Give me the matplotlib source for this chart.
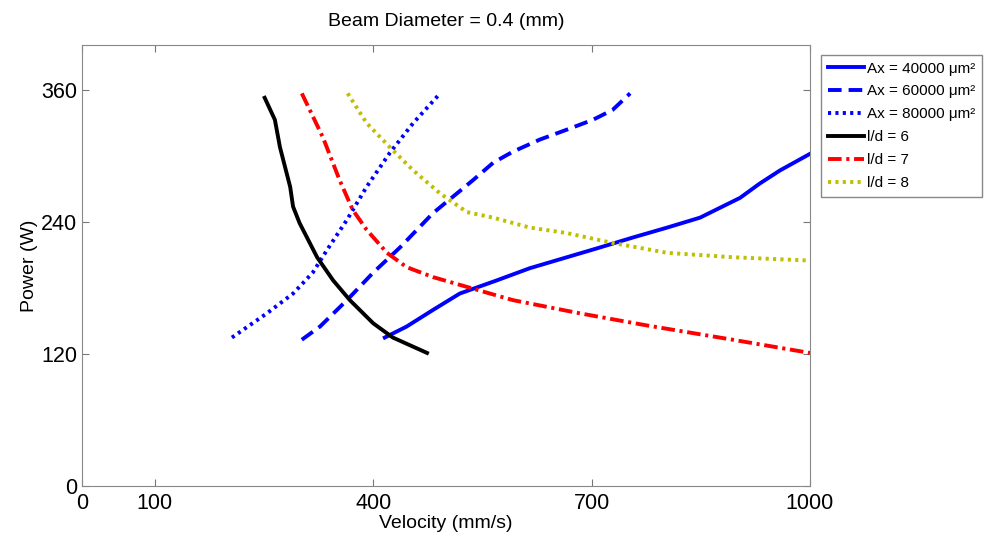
import matplotlib
matplotlib.use('Agg')
import matplotlib.pyplot as plt

plt.rcParams['font.family'] = ['Liberation Sans', 'DejaVu Sans']

# Ax = 40000 um^2 (blue solid)
v_ax40 = [416, 446, 482, 519, 570, 615, 661, 707, 757, 804, 849, 904, 931, 959, 1000]
p_ax40 = [135, 145, 160, 175, 187, 198, 207, 216, 226, 235, 244, 262, 275, 287, 302]
# Ax = 60000 um^2 (blue dashed)
v_ax60 = [302, 327, 364, 400, 437, 482, 537, 565, 592, 629, 666, 702, 729, 753]
p_ax60 = [133, 145, 169, 194, 217, 248, 278, 294, 304, 315, 324, 333, 342, 357]
# Ax = 80000 um^2 (blue dotted)
v_ax80 = [206, 254, 290, 317, 337, 364, 391, 423, 455, 492]
p_ax80 = [135, 157, 175, 194, 215, 242, 272, 303, 330, 357]
# l/d = 6 (black solid)
v_ld6 = [251, 265, 272, 286, 290, 299, 323, 345, 368, 400, 427, 474]
p_ld6 = [353, 333, 308, 272, 254, 239, 208, 187, 169, 148, 135, 121]
# l/d = 7 (red dash-dot)
v_ld7 = [302, 331, 354, 372, 391, 419, 446, 482, 529, 592, 684, 776, 894, 1000]
p_ld7 = [357, 317, 278, 251, 233, 212, 199, 190, 181, 169, 157, 146, 133, 121]
# l/d = 8 (yellow dotted)
v_ld8 = [365, 391, 423, 455, 492, 529, 565, 615, 666, 729, 804, 894, 1000]
p_ld8 = [357, 330, 308, 287, 266, 249, 244, 235, 230, 221, 212, 208, 205]

xticks = [0, 100, 400, 700, 1000]
yticks = [0, 120, 240, 360]

fig = plt.figure(figsize=(9.84, 5.42), dpi=100)
ax = fig.add_axes([0.0833, 0.1033, 0.7398, 0.8137])

lw = 2.8
ax.plot(v_ax40, p_ax40, color='#0000ff', lw=lw, ls='-', label='Ax = 40000 μm²')
ax.plot(v_ax60, p_ax60, color='#0000ff', lw=lw, ls=(0, (3.5, 1.8)), label='Ax = 60000 μm²')
ax.plot(v_ax80, p_ax80, color='#0000ff', lw=lw, ls=(0, (0.8, 1.1)), label='Ax = 80000 μm²')
ax.plot(v_ld6, p_ld6, color='black', lw=lw, ls='-', label='l/d = 6')
ax.plot(v_ld7, p_ld7, color='#ff0000', lw=lw, ls=(0, (3.5, 1.2, 0.8, 1.2)), label='l/d = 7')
ax.plot(v_ld8, p_ld8, color='#bfbf00', lw=lw, ls=(0, (0.8, 1.1)), label='l/d = 8')

ax.set_xlim(0, 1000)
ax.set_ylim(0, 401)
ax.set_xticks(xticks)
ax.set_yticks(yticks)
ax.tick_params(direction='in', top=True, right=True, labelsize=15.5, length=5, color='#777777')
ax.tick_params(axis='x', pad=5)
for s in ax.spines.values():
    s.set_color('#888888')
ax.set_xlabel('Velocity (mm/s)', fontsize=14, labelpad=1)
ax.set_ylabel('Power (W)', fontsize=14, labelpad=2)
ax.set_title('Beam Diameter = 0.4 (mm)', fontsize=14, pad=14)

leg = fig.legend(loc='upper left', bbox_to_anchor=(0.8344, 0.899), fontsize=11,
                 handlelength=2.35, handletextpad=0.2, labelspacing=0.58,
                 borderaxespad=0, fancybox=False, framealpha=1, borderpad=0.45)
leg.get_frame().set_edgecolor('#888888')

fig.savefig('out.png', dpi=100)
